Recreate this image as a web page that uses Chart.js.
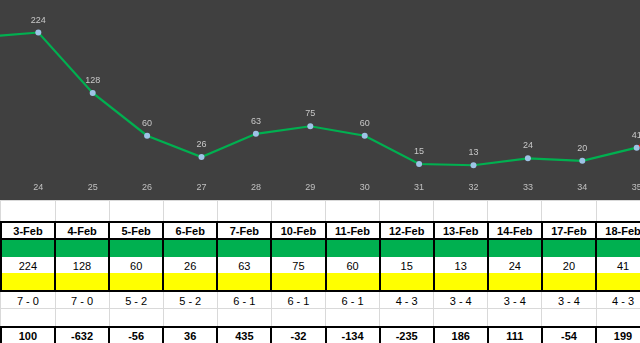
<!DOCTYPE html>
<html>
<head>
<meta charset="utf-8">
<script src="https://cdn.jsdelivr.net/npm/chart.js@4.4.1/dist/chart.umd.min.js"></script>
<style>
  html, body { margin:0; padding:0; width:640px; height:343px; overflow:hidden; background:#fff; }
  #chartBox { position:absolute; left:0; top:0; width:680px; height:200px; background:#404040; }
  #tbl { position:absolute; left:0; top:200px; width:700px; height:143px; }
  .ln { position:absolute; }
  .cell { position:absolute; text-align:center; font-family:"Liberation Sans", Arial, sans-serif; font-size:11px; color:#000; white-space:nowrap; }
  .b { font-weight:bold; }
</style>
</head>
<body>
<div id="chartBox"><canvas id="c"></canvas></div>
<div id="tbl"></div>
<script>
// ---- chart data ----
const weekNums = [23, 24, 25, 26, 27, 28, 29, 30, 31, 32, 33, 34, 35, 36];
const weekValues = [217, 224, 128, 60, 26, 63, 75, 60, 15, 13, 24, 20, 41, 95];
// ---- table data ----
const dates = ['3-Feb','4-Feb','5-Feb','6-Feb','7-Feb','10-Feb','11-Feb','12-Feb','13-Feb','14-Feb','17-Feb','18-Feb'];
const dayValues = [224, 128, 60, 26, 63, 75, 60, 15, 13, 24, 20, 41];
const records = ['7 - 0','7 - 0','5 - 2','5 - 2','6 - 1','6 - 1','6 - 1','4 - 3','3 - 4','3 - 4','3 - 4','4 - 3'];
const totals = [100, -632, -56, 36, 435, -32, -134, -235, 186, 111, -54, 199];

const GREEN = '#00B050';

const labelPlugin = {
  id: 'ptLabels',
  afterDatasetsDraw(chart) {
    const ctx = chart.ctx;
    const meta = chart.getDatasetMeta(0);
    ctx.save();
    ctx.font = '9px "Liberation Sans", Arial, sans-serif';
    ctx.fillStyle = '#c8c8c8';
    ctx.textAlign = 'center';
    ctx.textBaseline = 'middle';
    meta.data.forEach((pt, i) => {
      if (i === 0 || i === weekValues.length - 1) return;
      ctx.fillText(String(weekValues[i]), pt.x, pt.y - 12.5);
    });
    ctx.restore();
  }
};

new Chart(document.getElementById('c'), {
  type: 'line',
  data: {
    datasets: [{
      data: weekNums.map((w, i) => ({ x: w, y: weekValues[i] })),
      borderColor: GREEN,
      borderWidth: 2.2,
      pointRadius: 3,
      pointBackgroundColor: '#9DC3E6',
      pointBorderColor: '#9DC3E6',
      pointBorderWidth: 0,
      tension: 0,
      clip: false,
      segment: {
        borderColor: c => c.p0DataIndex === weekValues.length - 2 ? '#FF0000' : GREEN
      }
    }]
  },
  options: {
    responsive: true,
    maintainAspectRatio: false,
    animation: false,
    events: [],
    layout: { padding: 0, autoPadding: false },
    plugins: { legend: { display: false }, tooltip: { enabled: false } },
    scales: {
      x: {
        type: 'linear',
        min: 23.296,
        max: 23.296 + 680 / 54.4,
        grid: { display: false, drawTicks: false },
        border: { display: false },
        afterFit(s) { s.height = 24; s.paddingLeft = 0; s.paddingRight = 0; },
        ticks: {
          stepSize: 1,
          includeBounds: false,
          padding: 6,
          color: '#c0c0c0',
          font: { family: '"Liberation Sans", Arial, sans-serif', size: 9 },
          maxRotation: 0,
          autoSkip: false,
          callback: v => Number.isInteger(v) ? String(v) : ''
        }
      },
      y: {
        display: false,
        min: -4.1,
        max: 275.7
      }
    }
  },
  plugins: [labelPlugin]
});

// ---- table ----
const tbl = document.getElementById('tbl');
const X0 = 0.9, CW = 54.1, TOP = 200;
function line(x, y, w, h, color) {
  const d = document.createElement('div');
  d.className = 'ln';
  d.style.left = x + 'px'; d.style.top = (y - TOP) + 'px';
  d.style.width = w + 'px'; d.style.height = h + 'px';
  d.style.background = color;
  tbl.appendChild(d);
}
function cell(i, yc, text, bold) {
  const d = document.createElement('div');
  d.className = 'cell' + (bold ? ' b' : '');
  d.style.left = (X0 + i * CW) + 'px';
  d.style.width = CW + 'px';
  d.style.top = (yc - TOP - 8) + 'px';
  d.style.height = '16px';
  d.style.lineHeight = '16px';
  d.textContent = text;
  tbl.appendChild(d);
}
const n = dates.length;
const W = n * CW + 10;
// fills
line(0, 239, W, 18, GREEN);
line(0, 273, W, 17, '#FFFF00');
// light grid
for (let k = 0; k <= n; k++) line(X0 + k * CW - 0.5, 200, 1, 143, '#d9d9d9');
line(0, 200, W, 1, '#d9d9d9');
line(0, 308, W, 1, '#d9d9d9');
// thick borders
[221, 238, 290, 326].forEach(y => line(0, y, W, 2, '#000'));
for (let k = 0; k <= n; k++) {
  const x = X0 + k * CW - 1;
  line(x, 221, 2, 71, '#000');
  line(x, 326, 2, 20, '#000');
}
for (let i = 0; i < n; i++) {
  cell(i, 230.5, dates[i], true);
  cell(i, 265.5, String(dayValues[i]), false);
  cell(i, 300.5, records[i], false);
  cell(i, 335.5, String(totals[i]), true);
}
</script>
</body>
</html>
